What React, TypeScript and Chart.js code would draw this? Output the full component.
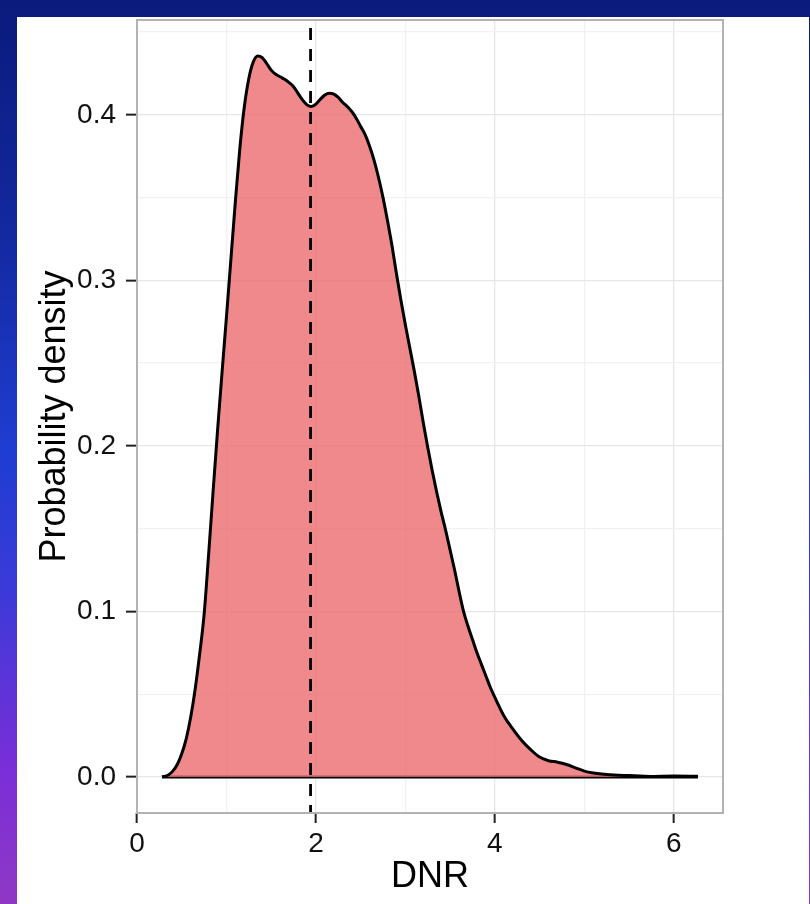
import { useEffect, useRef } from "react";
import { Chart, registerables } from "chart.js";

Chart.register(...registerables);

// Kernel density estimate of DNR (x) and its probability density (y)
const dnr = [
  0.28, 0.35, 0.4, 0.45, 0.5, 0.55, 0.6, 0.65, 0.7, 0.75, 0.8, 0.85, 0.9, 0.95, 1.0, 1.05, 1.1, 1.15, 1.2,
  1.25, 1.3, 1.35, 1.4, 1.45, 1.5, 1.55, 1.6, 1.65, 1.7, 1.75, 1.8, 1.85, 1.9, 1.95, 2.0, 2.05, 2.1, 2.15,
  2.2, 2.25, 2.3, 2.35, 2.4, 2.45, 2.5, 2.55, 2.6, 2.65, 2.7, 2.75, 2.8, 2.85, 2.9, 2.95, 3.0, 3.05, 3.1,
  3.15, 3.2, 3.25, 3.3, 3.35, 3.4, 3.45, 3.5, 3.55, 3.6, 3.65, 3.7, 3.75, 3.8, 3.85, 3.9, 3.95, 4.0, 4.1,
  4.2, 4.3, 4.4, 4.5, 4.6, 4.7, 4.8, 4.9, 5.0, 5.1, 5.25, 5.5, 5.75, 6.0, 6.27,
];
const density = [
  0.0, 0.0012, 0.0035, 0.0075, 0.014, 0.023, 0.036, 0.053, 0.074, 0.098, 0.134, 0.172, 0.209, 0.244, 0.278,
  0.313, 0.348, 0.38, 0.405, 0.422, 0.432, 0.4355, 0.4345, 0.431, 0.427, 0.4245, 0.423, 0.4215, 0.4195, 0.417,
  0.413, 0.409, 0.406, 0.405, 0.4065, 0.4095, 0.412, 0.413, 0.4125, 0.4105, 0.4075, 0.405, 0.402, 0.398, 0.393,
  0.388, 0.381, 0.3725, 0.362, 0.35, 0.336, 0.321, 0.304, 0.288, 0.273, 0.259, 0.245, 0.23, 0.214, 0.199, 0.185,
  0.172, 0.16, 0.149, 0.137, 0.125, 0.112, 0.1, 0.091, 0.083, 0.075, 0.068, 0.061, 0.054, 0.048, 0.037, 0.029,
  0.022, 0.0165, 0.012, 0.0098, 0.0089, 0.0075, 0.0055, 0.0035, 0.0024, 0.0015, 0.0008, 0.0003, 0.0005, 0.0004,
];

// Median DNR marked with a dashed vertical line
const medianDnr = 1.94;

const xGridValues = [0, 1, 2, 3, 4, 5, 6];
const xLabeledValues = [0, 2, 4, 6];
const yGridValues = [0, 0.05, 0.1, 0.15, 0.2, 0.25, 0.3, 0.35, 0.4, 0.45];
const yLabeledValues = [0, 0.1, 0.2, 0.3, 0.4];

const xTitle = "DNR";
const yTitle = "Probability density";

const FONT = "'Liberation Sans', Arial, Helvetica, sans-serif";

const medianLinePlugin = {
  id: "medianLine",
  afterDatasetsDraw(chart: any) {
    const { ctx, chartArea, scales } = chart;
    const px = scales.x.getPixelForValue(medianDnr);
    ctx.save();
    ctx.beginPath();
    ctx.setLineDash([12, 9]);
    ctx.lineWidth = 2.8;
    ctx.strokeStyle = "#000";
    ctx.moveTo(px, chartArea.top + 8);
    ctx.lineTo(px, chartArea.bottom);
    ctx.stroke();
    ctx.restore();
  },
};

const panelBorderPlugin = {
  id: "panelBorder",
  afterDraw(chart: any) {
    const { ctx, chartArea } = chart;
    ctx.save();
    ctx.strokeStyle = "#b3b3b3";
    ctx.lineWidth = 2;
    ctx.strokeRect(chartArea.left, chartArea.top, chartArea.right - chartArea.left, chartArea.bottom - chartArea.top);
    ctx.restore();
  },
};

export default function App() {
  const canvasRef = useRef<HTMLCanvasElement | null>(null);

  useEffect(() => {
    const canvas = canvasRef.current;
    if (!canvas) return;
    const points = dnr.map((x, i) => ({ x, y: density[i] }));
    const baseline = [
      { x: dnr[0], y: 0 },
      { x: dnr[dnr.length - 1], y: 0 },
    ];

    const chart = new Chart(canvas, {
      type: "line",
      data: {
        datasets: [
          {
            data: points,
            borderColor: "#000",
            borderWidth: 3,
            backgroundColor: "rgba(236,108,110,0.8)",
            fill: "origin",
            pointRadius: 0,
            cubicInterpolationMode: "monotone",
            borderJoinStyle: "round",
          },
          {
            data: baseline,
            borderColor: "#000",
            borderWidth: 3,
            pointRadius: 0,
            fill: false,
          },
        ],
      },
      options: {
        animation: false,
        responsive: false,
        devicePixelRatio: 1,
        layout: { padding: { left: 0, top: 3, right: 86, bottom: 0 } },
        plugins: { legend: { display: false }, tooltip: { enabled: false } },
        scales: {
          x: {
            type: "linear",
            min: 0,
            max: 6.55,
            afterBuildTicks: (s: any) => {
              s.ticks = xGridValues.map((v) => ({ value: v }));
            },
            afterFit: (s: any) => {
              s.height = 91;
              s.paddingLeft = 0;
              s.paddingRight = 0;
            },
            border: { display: false },
            grid: {
              color: (c: any) => (xLabeledValues.includes(c.tick?.value) ? "#e6e6e6" : "#f1f1f1"),
              lineWidth: 1.3,
              tickLength: 10,
              tickWidth: 2,
              tickColor: (c: any) => (xLabeledValues.includes(c.tick?.value) ? "#222" : "rgba(0,0,0,0)"),
            },
            ticks: {
              autoSkip: false,
              maxRotation: 0,
              padding: 4,
              color: "#111",
              font: { family: FONT, size: 28 },
              callback: (v: any) => (xLabeledValues.includes(v) ? String(v) : ""),
            },
            title: {
              display: true,
              text: xTitle,
              color: "#000",
              font: { family: FONT, size: 36 },
              padding: { top: 0, bottom: 5 },
            },
          },
          y: {
            type: "linear",
            min: -0.0218,
            max: 0.4573,
            afterBuildTicks: (s: any) => {
              s.ticks = yGridValues.map((v) => ({ value: v }));
            },
            afterFit: (s: any) => {
              s.width = 120;
              s.paddingTop = 0;
              s.paddingBottom = 0;
            },
            border: { display: false },
            grid: {
              color: (c: any) => (yLabeledValues.includes(c.tick?.value) ? "#e6e6e6" : "#f1f1f1"),
              lineWidth: 1.3,
              tickLength: 11,
              tickWidth: 2,
              tickColor: (c: any) => (yLabeledValues.includes(c.tick?.value) ? "#222" : "rgba(0,0,0,0)"),
            },
            ticks: {
              autoSkip: false,
              padding: 10,
              color: "#111",
              font: { family: FONT, size: 28 },
              callback: (v: any) => (yLabeledValues.includes(v) ? Number(v).toFixed(1) : ""),
            },
            title: {
              display: true,
              text: yTitle,
              color: "#000",
              font: { family: FONT, size: 36 },
              padding: { top: 16, bottom: 0 },
            },
          },
        },
      },
      plugins: [medianLinePlugin, panelBorderPlugin],
    } as any);

    return () => chart.destroy();
  }, []);

  return (
    <div
      style={{
        position: "fixed",
        left: 0,
        top: 0,
        width: 810,
        height: 904,
        overflow: "hidden",
        background:
          "linear-gradient(to bottom, #0a1a7c 0%, #13289e 25%, #1f3dd2 50%, #3a3ad8 65%, #7a2ed8 85%, #9038c4 100%)",
      }}
    >
      <div
        style={{
          position: "absolute",
          left: 17,
          top: 17,
          width: 792,
          height: 887,
          background: "#fff",
        }}
      >
        <canvas ref={canvasRef} width={792} height={887} style={{ display: "block" }} />
      </div>
    </div>
  );
}
